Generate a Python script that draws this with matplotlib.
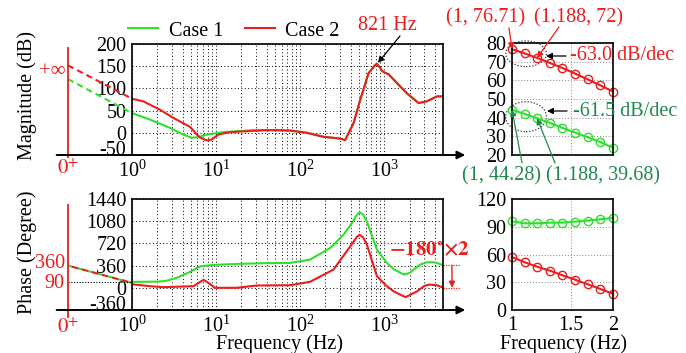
import numpy as np
import matplotlib
matplotlib.use("Agg")
import matplotlib.pyplot as plt
from matplotlib.patches import Ellipse, FancyArrowPatch

plt.rcParams['font.family'] = ['Liberation Serif', 'DejaVu Serif']
plt.rcParams['mathtext.fontset'] = 'stix'
plt.rcParams['font.size'] = 14.5
plt.rcParams['axes.unicode_minus'] = False

# ---- datos ----
# Magnitud, caso 1 (verde)
f_mag1 = [1, 1.64, 2.83, 4.08, 5.1, 6.15, 7.7, 12.2, 27.8, 50, 76, 120, 189, 299, 343,
          432, 518, 650, 781, 821, 880, 937, 1000, 1125, 1415, 1860, 2560, 3220, 4240, 5000]
mag1 = [44.28, 29.8, 11, -4, -11, -10, -4, 1.5, 5.8, 6, 5.1, 0, -9, -13, -16.4,
        22, 74, 134, 153, 155, 148, 140, 136, 132, 112, 89, 67, 71, 82, 82]
# Magnitud, caso 2 (rojo)
f_mag2 = [1, 1.37, 2.15, 3.1, 4.9, 5.9, 6.5, 7.7, 8.9, 10.6, 14.7, 23, 36.6, 50, 76, 120, 189,
          299, 343, 432, 518, 650, 781, 821, 880, 937, 1000, 1125, 1415, 1860, 2560, 3220, 4240, 5000]
mag2 = [76.71, 70.7, 52, 33.5, 13.4, -4, -11, -17, -15, -4, 1.5, 3.6, 5.8, 6, 5.1, 0, -9,
        -13, -16.4, 22, 74, 134, 153, 155, 148, 140, 136, 132, 112, 89, 67, 71, 82, 82]
# Fase, caso 1
f_ph1 = [1, 2, 2.5, 3.4, 4.9, 6.5, 9.3, 17.6, 40, 76, 131, 228, 328, 412, 470, 508, 560,
         622, 819, 1076, 1300, 1700, 2000, 2235, 2700, 3220, 3800, 4240, 5000]
ph1 = [96, 100, 110, 161, 258, 349, 371, 387, 400, 403, 457, 646, 860, 1049, 1180, 1227, 1190,
       1075, 618, 403, 300, 215, 240, 295, 380, 413, 415, 403, 365]
# Fase, caso 2
f_ph2 = [1, 1.64, 2.36, 5.4, 6.2, 7.1, 8.1, 9.7, 17.6, 30.5, 76, 131, 249, 394, 470, 508,
         560, 622, 819, 1076, 1300, 1795, 2472, 3000, 3400, 4240, 5000]
ph2 = [57, 26, 10, 26, 80, 129, 80, 0, 0, 37, 42, 97, 295, 671, 820, 860,
       820, 699, 187, 26, -60, -152, -55, 30, 53, 40, 5]

# zoom de 1 a 2 Hz
f_zoom = [1.0, 1.091, 1.188, 1.297, 1.414, 1.542, 1.682, 1.834, 2.0]
mag1_zoom = [44.28, 42.0, 39.68, 37.2, 34.5, 32.0, 29.5, 26.9, 23.9]
mag2_zoom = [76.71, 74.4, 72.0, 69.3, 66.6, 63.6, 60.5, 57.3, 54.0]
ph1_zoom = [95.9, 93.7, 93.7, 94.4, 94.4, 95.5, 96.6, 98.1, 99.5]
ph2_zoom = [57.3, 51.6, 46.8, 42.5, 37.5, 32.8, 27.8, 22.7, 17.6]

# extrapolacion hacia 0+
mag1_0 = 121
mag2_0 = 152
ph_0 = 360
ph_end = 80

verde = '#2ee02e'
rojo = '#ee1c1c'
verde_osc = '#1f8a4c'

W, H = 686, 353
fig = plt.figure(figsize=(W / 100, H / 100), dpi=100)


def px(x, y):
    return (x / W, 1 - y / H)


ax1 = fig.add_axes([132 / W, 1 - 155 / H, 311 / W, 111 / H])
ax2 = fig.add_axes([132 / W, 1 - 310 / H, 311 / W, 111 / H])
ax3 = fig.add_axes([512 / W, 1 - 155 / H, 101 / W, 112 / H])
ax4 = fig.add_axes([512 / W, 1 - 310 / H, 101 / W, 111 / H])

grid_kw = dict(color='k', ls=(0, (1, 2.5)), lw=0.7)
x0 = 0.173      # posicion de 0+
xl = 0.127      # inicio del eje
xr = 9200       # punta de la flecha

for ax, ylim, ticks in [(ax1, (-50, 200), [200, 150, 100, 50, 0, -50]),
                        (ax2, (-360, 1440), [1440, 1080, 720, 360, 0, -360])]:
    ax.set_xscale('log')
    ax.set_xlim(1, 5000)
    ax.set_ylim(*ylim)
    ax.set_yticks(ticks, labels=[str(t) for t in ticks])
    ax.get_yticklabels()[-1].set_verticalalignment('baseline')
    ax.set_xticks([1, 10, 100, 1000])
    ax.grid(True, which='major', **grid_kw)
    ax.grid(True, which='minor', axis='x', **grid_kw)
    ax.tick_params(which='both', length=0, pad=4)
    ax.spines['bottom'].set_visible(False)
    for s in ['left', 'top', 'right']:
        ax.spines[s].set_linewidth(1.2)
    ax.annotate('', xy=(xr, ylim[0]), xytext=(xl, ylim[0]), annotation_clip=False,
                arrowprops=dict(arrowstyle='-|>', color='k', lw=1.4, shrinkA=0, shrinkB=0,
                                mutation_scale=12))

# --- magnitud ---
l1, = ax1.plot(f_mag1, mag1, color=verde, lw=1.5, label='Case 1')
l2, = ax1.plot(f_mag2, mag2, color=rojo, lw=1.5, label='Case 2')
ax1.plot([x0, 1], [mag1_0, mag1[0]], color=verde, ls=(0, (3, 2)), lw=1.5, clip_on=False)
ax1.plot([x0, 1], [mag2_0, mag2[0]], color=rojo, ls=(0, (3, 2)), lw=1.5, clip_on=False)
ax1.plot([x0, x0], [191, -54], color=rojo, lw=1.3, clip_on=False)
ax1.text(0.163, 137, '+∞', color=rojo, ha='right', va='center', fontsize=15)
ax1.text(x0, -60, r'$0^{+}$', color=rojo, ha='center', va='top', fontsize=15)

ax1.annotate('', xy=(821, 155), xytext=(1540, 218), annotation_clip=False,
             arrowprops=dict(arrowstyle='-|>', color='k', lw=0.9, shrinkA=0, shrinkB=1,
                             mutation_scale=9))
fig.text(*px(387, 25), '821 Hz', color=rojo, ha='center', va='center')

# --- fase ---
ax2.plot(f_ph1, ph1, color=verde, lw=1.5)
ax2.plot(f_ph2, ph2, color=rojo, lw=1.5)
ax2.plot([x0, 1], [ph_0, ph_end], color=verde, ls=(0, (3, 2)), lw=1.5, clip_on=False)
ax2.plot([x0, 1], [ph_0, ph_end], color=rojo, ls=(3, (3, 2)), lw=1.5, clip_on=False)
ax2.plot([x0, 1], [90, 90], color='k', ls=(0, (1, 1.5)), lw=0.8, clip_on=False)
ax2.plot([x0, x0], [1343, -470], color=rojo, lw=1.3, clip_on=False)
ax2.text(0.158, 400, '360', color=rojo, ha='right', va='center')
ax2.text(0.158, 70, '90', color=rojo, ha='right', va='center')
ax2.text(x0, -500, r'$0^{+}$', color=rojo, ha='center', va='top', fontsize=15)

ax2.plot([5000, 7960], [ph1[-1], ph1[-1]], color=rojo, ls=(0, (1, 1)), lw=0.9, clip_on=False)
ax2.plot([5000, 7960], [0, 0], color=rojo, ls=(0, (1, 1)), lw=0.9, clip_on=False)
ax2.annotate('', xy=(6390, 0), xytext=(6390, ph1[-1]), annotation_clip=False,
             arrowprops=dict(arrowstyle='-|>', color=rojo, lw=1.0, shrinkA=0, shrinkB=0,
                             mutation_scale=9))
fig.text(*px(429, 251), r'$\mathbf{-180^{\circ}{\times}2}$', color=rojo, ha='center',
         va='center', fontsize=15)

# --- paneles de zoom ---
for ax, ylim, ticks in [(ax3, (20, 80), [20, 30, 40, 50, 60, 70, 80]),
                        (ax4, (0, 120), [0, 30, 60, 90, 120])]:
    ax.set_xscale('log')
    ax.set_xlim(1, 2)
    ax.set_ylim(*ylim)
    ax.set_yticks(ticks)
    ax.set_xticks([1, 1.5, 2])
    ax.set_xticklabels(['1', '1.5', '2'])
    ax.xaxis.set_minor_locator(matplotlib.ticker.NullLocator())
    ax.grid(True, color='#888888', ls=(0, (1, 2)), lw=0.7)
    ax.tick_params(length=0, pad=4)
    for s in ax.spines.values():
        s.set_linewidth(1.2)
ax3.set_xticklabels([])

mk = dict(marker='o', ms=6, mfc='none', mew=1.0, lw=1.5)
ax3.plot(f_zoom, mag2_zoom, color=rojo, clip_on=False, **mk)
ax3.plot(f_zoom, mag1_zoom, color=verde, clip_on=False, **mk)
ax4.plot(f_zoom, ph1_zoom, color=verde, clip_on=False, **mk)
ax4.plot(f_zoom, ph2_zoom, color=rojo, clip_on=False, **mk)

for cy, h in [(0.904, 0.229), (0.342, 0.268)]:
    ax3.add_patch(Ellipse((0.139, cy), 0.403, h, transform=ax3.transAxes, fill=False,
                          ec='#333333', ls=(0, (1, 1.5)), lw=0.9, clip_on=False))

arr = dict(arrowstyle='-|>', lw=0.9, shrinkA=0, shrinkB=0, mutation_scale=9)
ax3.annotate('', xy=(1.0, 76.71), xytext=px(509, 28), textcoords='figure fraction',
             annotation_clip=False, arrowprops=dict(color=rojo, **arr))
ax3.annotate('', xy=(1.188, 72.0), xytext=px(559, 27), textcoords='figure fraction',
             annotation_clip=False, arrowprops=dict(color=rojo, **arr))
ax3.annotate('', xy=(1.0, 44.28), xytext=px(522, 163), textcoords='figure fraction',
             annotation_clip=False, arrowprops=dict(color=verde_osc, **arr))
ax3.annotate('', xy=(1.188, 39.68), xytext=px(555, 163), textcoords='figure fraction',
             annotation_clip=False, arrowprops=dict(color=verde_osc, **arr))
fig.text(*px(486, 18), '(1, 76.71)', color=rojo, ha='center', va='center')
fig.text(*px(579, 18), '(1.188, 72)', color=rojo, ha='center', va='center')
fig.text(*px(501, 176), '(1, 44.28)', color=verde_osc, ha='center', va='center')
fig.text(*px(603, 176), '(1.188, 39.68)', color=verde_osc, ha='center', va='center')

fig.add_artist(FancyArrowPatch(px(566, 56), px(546, 56), transform=fig.transFigure,
                               color='k', **arr))
fig.add_artist(FancyArrowPatch(px(567, 111), px(547, 111), transform=fig.transFigure,
                               color='k', **arr))
fig.text(*px(570, 55), '-63.0 dB/dec', color=rojo, ha='left', va='center')
fig.text(*px(573, 111), '-61.5 dB/dec', color=verde_osc, ha='left', va='center')

# --- etiquetas ---
fig.text(*px(27, 95), 'Magnitude (dB)', rotation=90, ha='center', va='center')
fig.text(*px(27, 252), 'Phase (Degree)', rotation=90, ha='center', va='center')
fig.text(*px(280, 344), 'Frequency (Hz)', ha='center', va='center')
fig.text(*px(563, 344), 'Frequency (Hz)', ha='center', va='center')

fig.legend(handles=[l1, l2], loc='center', bbox_to_anchor=px(234, 31), ncol=2, frameon=False,
           handlelength=1.5, handletextpad=0.5, columnspacing=1.1, borderpad=0)

fig.savefig('out.png', dpi=100)
